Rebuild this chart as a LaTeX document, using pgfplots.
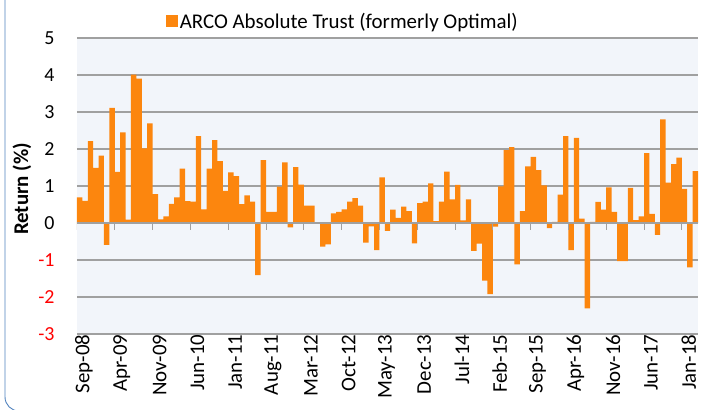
\documentclass[border=0pt]{standalone}
\usepackage{pgfplots}
\pgfplotsset{compat=1.18}
\usepackage{fontspec}
\setmainfont{Carlito}
\definecolor{barorange}{RGB}{252,134,14}
\definecolor{bgblue}{RGB}{242,245,250}
\definecolor{gridgray}{RGB}{160,160,160}
\definecolor{framecol}{RGB}{79,129,189}
\pgfplotstableread{
idx val
0 0.69
1 0.60
2 2.21
3 1.49
4 1.82
5 -0.59
6 3.11
7 1.38
8 2.45
9 0.09
10 4.01
11 3.90
12 2.02
13 2.69
14 0.78
15 0.10
16 0.18
17 0.52
18 0.69
19 1.47
20 0.59
21 0.58
22 2.35
23 0.37
24 1.47
25 2.24
26 1.67
27 0.87
28 1.37
29 1.27
30 0.51
31 0.75
32 0.58
33 -1.41
34 1.70
35 0.30
36 0.30
37 0.98
38 1.64
39 -0.12
40 1.51
41 1.04
42 0.47
43 0.47
44 0.01
45 -0.64
46 -0.58
47 0.26
48 0.30
49 0.37
50 0.58
51 0.67
52 0.47
53 -0.53
54 -0.09
55 -0.73
56 1.23
57 -0.21
58 0.36
59 0.14
60 0.44
61 0.32
62 -0.55
63 0.54
64 0.58
65 1.07
66 0.05
67 0.58
68 1.39
69 0.64
70 1.03
71 0.07
72 0.64
73 -0.75
74 -0.56
75 -1.56
76 -1.92
77 -0.10
78 0.99
79 1.97
80 2.05
81 -1.12
82 0.32
83 1.53
84 1.79
85 1.43
86 1.02
87 -0.14
88 0.03
89 0.77
90 2.35
91 -0.73
92 2.30
93 0.12
94 -2.31
95 0.03
96 0.57
97 0.36
98 0.96
99 0.30
100 -1.03
101 -1.03
102 0.95
103 0.08
104 0.18
105 1.89
106 0.25
107 -0.32
108 2.80
109 1.09
110 1.59
111 1.77
112 0.92
113 -1.20
114 1.40
}\returns
\begin{document}
\begin{tikzpicture}
\useasboundingbox (-77bp,-76bp) rectangle (628bp,334bp);
\draw[framecol, line width=0.9bp, rounded corners=14bp] (-72bp,-77bp) rectangle (660bp,360bp);
\begin{axis}[
  at={(0,0)}, anchor=south west,
  width=621bp, height=296bp, scale only axis,
  xmin=-0.5, xmax=114.5, ymin=-3, ymax=5,
  axis line style={draw=none},
  axis background/.style={fill=bgblue},
  ytick={-3,-2,-1,0,1,2,3,4,5},
  yticklabels={\textcolor{red}{-3},\textcolor{red}{-2},\textcolor{red}{-1},0,1,2,3,4,5},
  ymajorgrids, grid style={gridgray, line width=1.1bp},
  major tick length=0pt,
  xtick={-0.5,6.5,...,111.5},
  xticklabels={Sep-08,Apr-09,Nov-09,Jun-10,Jan-11,Aug-11,Mar-12,Oct-12,May-13,Dec-13,Jul-14,Feb-15,Sep-15,Apr-16,Nov-16,Jun-17,Jan-18},
  x tick label style={rotate=90, anchor=east, font=\fontsize{21}{21}\selectfont, yshift=-7bp, xshift=3bp},
  y tick label style={font=\fontsize{20}{20}\selectfont, xshift=-19bp},
  ylabel={\textbf{Return (\%)}},
  ylabel style={at={(axis description cs:-0.0886,0.49)}, anchor=center, font=\fontsize{21}{21}\selectfont},
  legend style={at={(axis description cs:0.428,1.057)}, anchor=center, draw=none, fill=none, font=\fontsize{21}{21}\selectfont},
  legend image code/.code={\fill[barorange] (0bp,-6bp) rectangle (12bp,6bp);},
]
\addplot[ybar, bar width=1, fill=barorange, draw=none] table[x=idx, y=val] {\returns};
\addlegendentry{ARCO Absolute Trust (formerly Optimal)}
\addplot[ycomb, gridgray, line width=1bp, no marks, forget plot] coordinates {(-0.5,-0.18) (6.5,-0.18) (13.5,-0.18) (20.5,-0.18) (27.5,-0.18) (34.5,-0.18) (41.5,-0.18) (48.5,-0.18) (55.5,-0.18) (62.5,-0.18) (69.5,-0.18) (76.5,-0.18) (83.5,-0.18) (90.5,-0.18) (97.5,-0.18) (104.5,-0.18) (111.5,-0.18)};
\addplot[gridgray, line width=1.1bp, no marks, forget plot] coordinates {(-0.5,0) (114.5,0)};
\end{axis}
\end{tikzpicture}
\end{document}
